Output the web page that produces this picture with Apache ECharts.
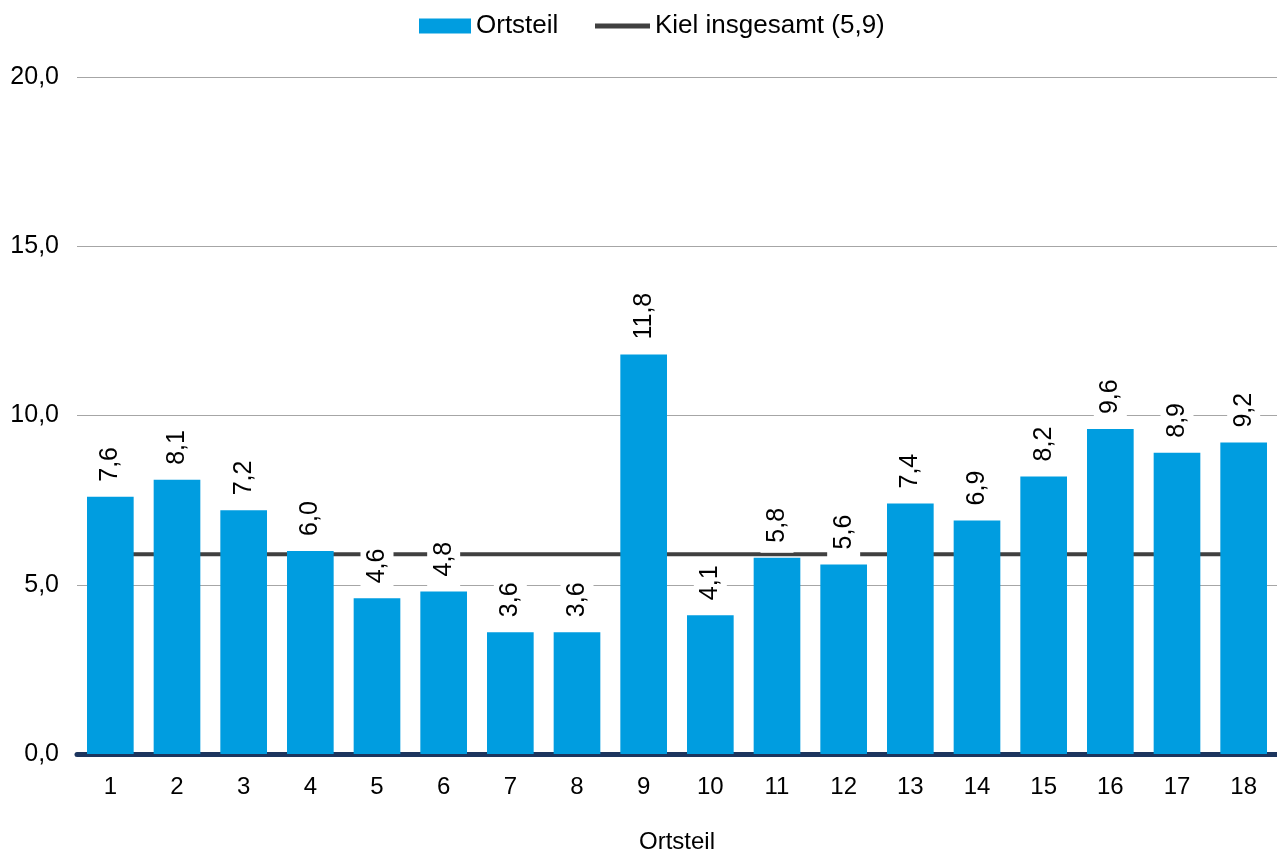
<!DOCTYPE html>
<html>
<head>
<meta charset="utf-8">
<script src="https://cdn.jsdelivr.net/npm/echarts@6/dist/echarts.min.js"></script>
<style>html,body{margin:0;padding:0;background:#fff}#c{width:1277px;height:852px}</style>
</head>
<body>
<div id="c"></div>
<script>
const categories = ['1','2','3','4','5','6','7','8','9','10','11','12','13','14','15','16','17','18'];
const ortsteilValues = [7.6, 8.1, 7.2, 6.0, 4.6, 4.8, 3.6, 3.6, 11.8, 4.1, 5.8, 5.6, 7.4, 6.9, 8.2, 9.6, 8.9, 9.2];
const kielValue = 5.9;
const kielValues = categories.map(() => kielValue);
const seriesNames = ['Ortsteil', 'Kiel insgesamt (5,9)'];

const fmt = v => v.toFixed(1).replace('.', ',');
const font = 'Liberation Sans, Arial, sans-serif';

const chart = echarts.init(document.getElementById('c'), null, {renderer: 'canvas'});
chart.setOption({
  animation: false,
  backgroundColor: '#ffffff',
  textStyle: {fontFamily: font},
  legend: [
    {
      top: 8,
      left: 414,
      itemWidth: 52,
      itemHeight: 15,
      icon: 'rect',
      textStyle: {fontSize: 26, color: '#000', fontFamily: font},
      data: [seriesNames[0]]
    },
    {
      top: 8,
      left: 590,
      itemWidth: 55,
      itemHeight: 5,
      icon: 'rect',
      textStyle: {fontSize: 26, color: '#000', fontFamily: font},
      data: [seriesNames[1]]
    }
  ],
  grid: {left: 77, right: 0, top: 77, bottom: 98, containLabel: false, outerBoundsMode: 'none'},
  xAxis: {
    type: 'category',
    data: categories,
    name: 'Ortsteil',
    nameLocation: 'middle',
    nameGap: 76,
    nameTextStyle: {fontSize: 24, color: '#000', fontFamily: font, verticalAlign: 'top'},
    axisLine: {show: true, lineStyle: {color: '#1c355e', width: 5}},
    axisTick: {show: false},
    axisLabel: {fontSize: 24, color: '#000', margin: 21, fontFamily: font}
  },
  yAxis: {
    type: 'value',
    min: 0, max: 20, interval: 5,
    axisLine: {show: false},
    axisTick: {show: false},
    axisLabel: {fontSize: 25, color: '#000', margin: 18, formatter: v => fmt(v), fontFamily: font},
    splitLine: {show: true, lineStyle: {color: '#a6a6a6', width: 1}}
  },
  series: [
    {
      name: seriesNames[0],
      type: 'bar',
      data: ortsteilValues,
      barWidth: '70%',
      z: 3,
      itemStyle: {color: '#009de0'},
      label: {
        show: true,
        position: 'top',
        distance: 5,
        rotate: 90,
        align: 'left',
        verticalAlign: 'middle',
        fontSize: 25,
        color: '#000',
        fontFamily: font,
        backgroundColor: '#ffffff',
        padding: [4, 6, 4, 10],
        formatter: p => fmt(p.value)
      }
    },
    {
      name: seriesNames[1],
      type: 'line',
      data: kielValues,
      z: 1,
      symbol: 'none',
      showSymbol: false,
      lineStyle: {color: '#404040', width: 4},
      itemStyle: {color: '#404040'}
    }
  ]
});
</script>
</body>
</html>
